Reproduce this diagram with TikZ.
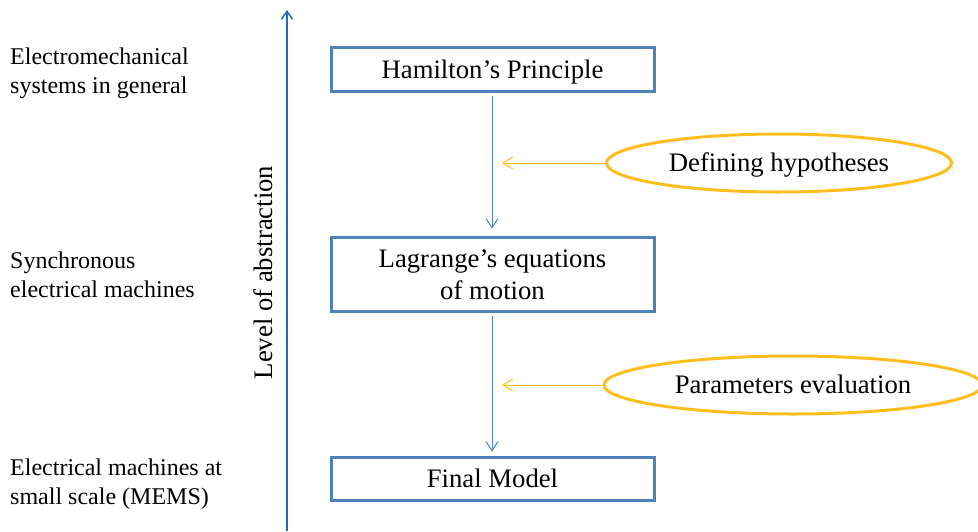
\documentclass[tikz,border=0pt]{standalone}
\usepackage{fontspec}
\setmainfont{Liberation Serif}
\usetikzlibrary{shapes.geometric,arrows.meta}
\definecolor{boxblue}{RGB}{79,129,189}
\definecolor{axisblue}{RGB}{30,110,190}
\definecolor{gold}{RGB}{255,190,30}
\tikzset{
  stepbox/.style={draw=boxblue, line width=3pt, fill=white, rectangle, inner sep=0pt, outer sep=0pt,
    minimum width=323pt, align=center, font=\fontsize{26.7}{32}\selectfont},
  hyp/.style={draw=gold, line width=3pt, ellipse, inner sep=0pt, outer sep=0pt,
    text height=23pt, text depth=6pt, font=\fontsize{26.7}{32}\selectfont},
  sidetext/.style={anchor=north west, inner sep=0pt, align=left, font=\fontsize{24}{29}\selectfont},
  bluearrow/.style={draw=boxblue, line width=1pt, -{Straight Barb[length=9pt,width=12pt]}},
  goldarrow/.style={draw=gold, line width=1pt, -{Straight Barb[length=10pt,width=12pt]}},
  axisarrow/.style={draw=axisblue, line width=1.5pt, -{Straight Barb[length=8pt,width=11pt]}}
}
\begin{document}
\begin{tikzpicture}[x=1pt,y=-1pt]
\useasboundingbox (0,0) rectangle (978,531);
\clip (0,0) rectangle (978,531);
% axis
\coordinate (ab) at (287,531);
\coordinate (at) at (287,10);
\draw[axisarrow] (ab) -- (at);
\node[rotate=90, anchor=base, inner sep=0pt, font=\fontsize{26.7}{32}\selectfont] (lvl) at (272,272.5) {Level of abstraction};
% left texts
\node[sidetext] (t1) at (10,47.5) {Electromechanical\\systems in general};
\node[sidetext] (t2) at (10,252) {Synchronous\\electrical machines};
\node[sidetext] (t3) at (10,458.5) {Electrical machines at\\small scale (MEMS)};
% boxes
\node[stepbox, minimum height=44pt, text height=23pt, text depth=6pt] (ham) at (492.5,69.5) {Hamilton’s Principle};
\node[stepbox, minimum height=74pt, yshift=0pt] (lag) at (492.5,274.5) {Lagrange’s equations\\of motion};
\node[stepbox, minimum height=43pt, text height=23pt, text depth=6pt] (fin) at (492.5,479) {Final Model};
% ellipses
\node[hyp, minimum width=345pt, minimum height=58pt] (def) at (779,163) {Defining hypotheses};
\node[hyp, minimum width=378pt, minimum height=58pt] (par) at (793,385) {Parameters evaluation};
% arrows
\draw[bluearrow, shorten <=4pt, shorten >=9pt] (ham.south -| 492,0) -- (lag.north -| 492,0);
\draw[bluearrow, shorten <=4pt, shorten >=6pt] (lag.south -| 492,0) -- (fin.north -| 492,0);
\coordinate (d1) at (502,163);
\coordinate (d2) at (502,385);
\draw[goldarrow] (def.west) -- (d1);
\draw[goldarrow] (par.west) -- (d2);
\end{tikzpicture}
\end{document}
